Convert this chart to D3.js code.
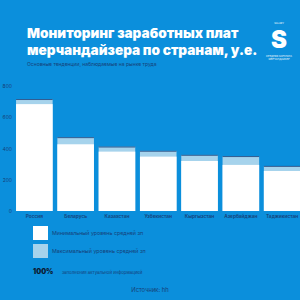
<!DOCTYPE html>
<html>
<head>
<meta charset="utf-8">
<script src="https://cdn.jsdelivr.net/npm/d3@7"></script>
<style>
  body { margin: 0; background: #0b8fdc; }
  text { font-family: Inter, "Open Sans", sans-serif; }
</style>
</head>
<body>
<div id="container"></div>
<script>
var countries = ['Россия', 'Беларусь', 'Казахстан', 'Узбекистан', 'Кыргызстан', 'Азербайджан', 'Таджикистан'];
var minSalary = [684, 427, 380, 348, 320, 295, 256];
var maxSalary = [716, 472, 412, 385, 359, 351, 288];
var yTicks = [0, 200, 400, 600, 800];

var colors = {
  bg: '#0b8fdc',
  min: '#ffffff',
  max: '#a6d3ec',
  navy: '#163f78'
};

var svg = d3.select('#container').append('svg')
  .attr('width', 300)
  .attr('height', 300);

svg.append('rect').attr('width', 300).attr('height', 300).attr('fill', colors.bg);

// title
var title = svg.append('text')
  .attr('x', 27)
  .attr('fill', '#fff')
  .style('font-size', '13.6px')
  .style('font-weight', 900);
title.append('tspan').attr('x', 27).attr('y', 38).text('Мониторинг заработных плат');
title.append('tspan').attr('x', 27).attr('y', 55).text('мерчандайзера по странам, у.е.');

svg.append('text')
  .attr('x', 27).attr('y', 66)
  .attr('fill', colors.navy)
  .style('font-size', '5px')
  .text('Основные тенденции, наблюдаемые на рынке труда');

// logo
var logo = svg.append('g').attr('transform', 'translate(279,0)');
logo.append('text').attr('y', 24).attr('text-anchor', 'middle').attr('fill', '#fff')
  .style('font-size', '2.5px').text('SALARY');
logo.append('text').attr('y', 48).attr('text-anchor', 'middle').attr('fill', '#fff')
  .style('font-size', '24px').style('font-weight', 900).text('S');
logo.append('text').attr('y', 57).attr('text-anchor', 'middle').attr('fill', '#fff')
  .style('font-size', '2.5px').text('СРЕДНЯЯ ЗАРПЛАТА');
logo.append('text').attr('y', 60).attr('text-anchor', 'middle').attr('fill', '#fff')
  .style('font-size', '2.5px').text('МЕРЧАНДАЙЗЕР');

// scales
var x = d3.scaleBand()
  .domain(countries)
  .range([13.7, 302.8])
  .paddingInner(0.114)
  .paddingOuter(0.057);

var y = d3.scaleLinear()
  .domain([0, 800])
  .range([211, 86]);

var yAxis = svg.append('g')
  .attr('transform', 'translate(12,0)')
  .call(d3.axisLeft(y).tickValues(yTicks).tickSize(0).tickPadding(0));
yAxis.select('.domain').remove();
yAxis.selectAll('text').attr('fill', colors.navy).style('font-size', '5px').style('font-family', 'Inter, sans-serif');

var data = countries.map(function(c, i) {
  return { country: c, min: minSalary[i], max: maxSalary[i] };
});

var bars = svg.append('g');
bars.selectAll('rect.max')
  .data(data).enter().append('rect')
  .attr('class', 'max')
  .attr('x', function(d) { return x(d.country); })
  .attr('y', function(d) { return y(d.max); })
  .attr('width', x.bandwidth())
  .attr('height', function(d) { return y(0) - y(d.max); })
  .attr('fill', colors.max);

bars.selectAll('rect.min')
  .data(data).enter().append('rect')
  .attr('class', 'min')
  .attr('x', function(d) { return x(d.country); })
  .attr('y', function(d) { return y(d.min); })
  .attr('width', x.bandwidth())
  .attr('height', function(d) { return y(0) - y(d.min); })
  .attr('fill', colors.min);

bars.selectAll('line.top')
  .data(data).enter().append('line')
  .attr('x1', function(d) { return x(d.country); })
  .attr('x2', function(d) { return x(d.country) + x.bandwidth(); })
  .attr('y1', function(d) { return y(d.max) + 0.4; })
  .attr('y2', function(d) { return y(d.max) + 0.4; })
  .attr('stroke', colors.navy)
  .attr('stroke-width', 0.8);

var xAxis = svg.append('g')
  .attr('transform', 'translate(0,211)')
  .call(d3.axisBottom(x).tickSize(0).tickPadding(4));
xAxis.select('.domain').remove();
xAxis.selectAll('text').attr('fill', colors.navy)
  .style('font-size', '4.8px').style('font-weight', 600).style('font-family', 'Inter, sans-serif');

// legend
var legendItems = [
  { label: 'Минимальный уровень средней зп', color: colors.min },
  { label: 'Максимальный уровень средней зп', color: colors.max }
];
var legend = svg.append('g').selectAll('g')
  .data(legendItems).enter().append('g')
  .attr('transform', function(d, i) { return 'translate(33,' + (226 + i * 18) + ')'; });
legend.append('rect').attr('width', 15).attr('height', 14).attr('fill', function(d) { return d.color; });
legend.append('text').attr('x', 19).attr('y', 9)
  .attr('fill', colors.navy).style('font-size', '5.3px')
  .text(function(d) { return d.label; });

svg.append('text')
  .attr('x', 33).attr('y', 274)
  .attr('fill', '#0c1a33')
  .style('font-size', '7px').style('font-weight', 900)
  .text('100%');
svg.append('text')
  .attr('x', 62).attr('y', 273.5)
  .attr('fill', colors.navy)
  .style('font-size', '4.3px')
  .text('заполнения актуальной информацией');

svg.append('text')
  .attr('x', 150).attr('y', 292)
  .attr('text-anchor', 'middle')
  .attr('fill', colors.navy)
  .style('font-size', '5.8px')
  .text('Источник: hh');
</script>
</body>
</html>
